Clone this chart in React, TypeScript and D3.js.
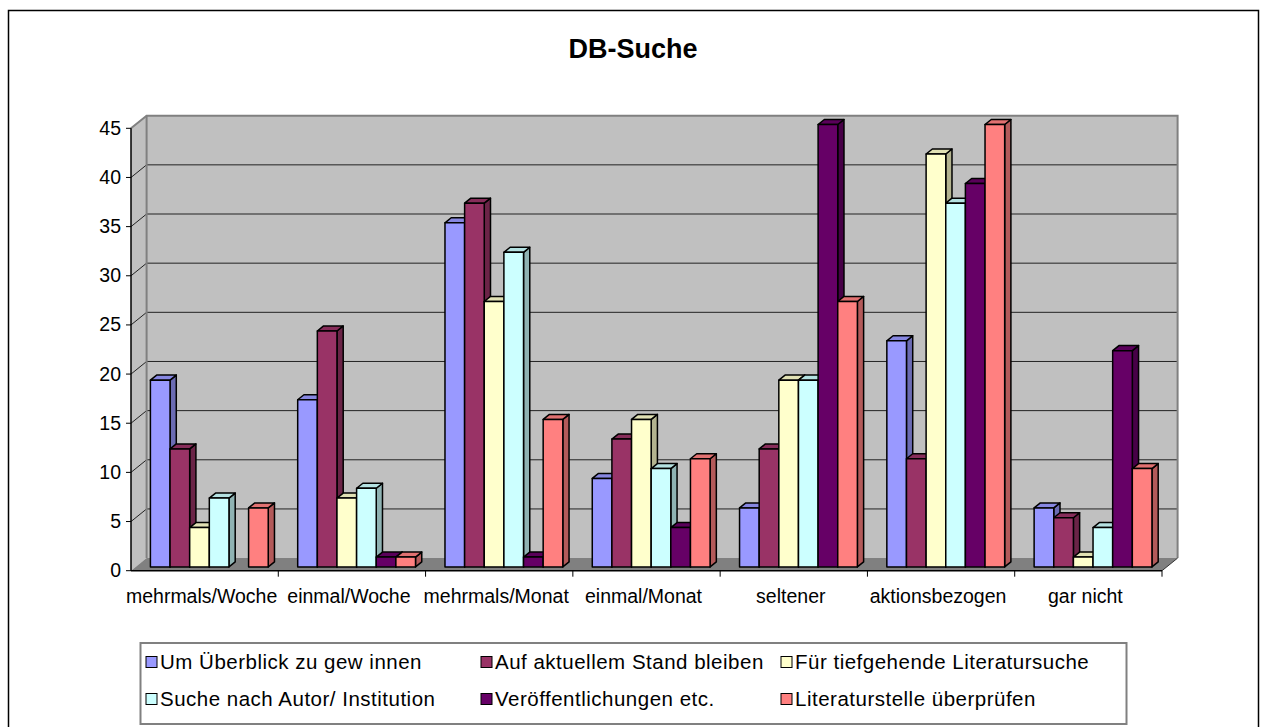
import * as d3 from "d3";

const categories = [
  "mehrmals/Woche",
  "einmal/Woche",
  "mehrmals/Monat",
  "einmal/Monat",
  "seltener",
  "aktionsbezogen",
  "gar nicht",
];

const seriesNames = [
  "Um Überblick zu gew innen",
  "Auf aktuellem Stand bleiben",
  "Für tiefgehende Literatursuche",
  "Suche nach Autor/ Institution",
  "Veröffentlichungen etc.",
  "Literaturstelle überprüfen",
];

const seriesColors = ["#9999FF", "#993366", "#FFFFCC", "#CCFFFF", "#660066", "#FF8080"];

const ueberblick = [19, 17, 35, 9, 6, 23, 6];
const aktuell = [12, 24, 37, 13, 12, 11, 5];
const tiefgehend = [4, 7, 27, 15, 19, 42, 1];
const autor = [7, 8, 32, 10, 19, 37, 4];
const veroeffentl = [0, 1, 1, 4, 45, 39, 22];
const literaturstelle = [6, 1, 15, 11, 27, 45, 10];

const yTicks = [0, 5, 10, 15, 20, 25, 30, 35, 40, 45];

const seriesValues = [ueberblick, aktuell, tiefgehend, autor, veroeffentl, literaturstelle];

const W = 1264;
const H = 727;
const x0 = 131;
const x1 = 1162;
const depth = { dx: 15.6, dy: -12.6 };
const barT0 = 0.3;
const barT1 = 0.7;
const font = "Arial, 'Liberation Sans', sans-serif";

export default function App() {
  const y = d3.scaleLinear().domain([0, 45]).range([570.7, 128.3]);
  const xCat = d3.scaleBand().domain(categories).range([x0, x1]).padding(0);
  const xSer = d3
    .scaleBand()
    .domain(seriesNames)
    .range([0, xCat.bandwidth()])
    .paddingInner(0)
    .paddingOuter(0.75);

  const y0 = y(0);
  const y45 = y(45);
  const bx = (t: number) => t * depth.dx;
  const by = (t: number) => t * depth.dy;

  // back wall, left wall, floor
  const backLeft = x0 + depth.dx;
  const backRight = x1 + depth.dx;
  const leftWall = `M${x0},${y0} L${x0},${y45} L${backLeft},${y45 + depth.dy} L${backLeft},${y0 + depth.dy} Z`;
  const floor = `M${x0},${y0} L${x1},${y0} L${backRight},${y0 + depth.dy} L${backLeft},${y0 + depth.dy} Z`;

  const bars: JSX.Element[] = [];
  categories.forEach((cat, ci) => {
    seriesNames.forEach((s, si) => {
      const v = seriesValues[si][ci];
      if (!v) return;
      const base = d3.color(seriesColors[si])!;
      const top = d3.rgb(base).darker(0.35).formatHex();
      const side = d3.rgb(base).darker(1).formatHex();
      const left = xCat(cat)! + xSer(s)! + bx(barT0);
      const right = left + xSer.bandwidth();
      const yb = y0 + by(barT0);
      const yt = y(v) + by(barT0);
      const ddx = bx(barT1 - barT0);
      const ddy = by(barT1 - barT0);
      bars.push(
        <g key={`${ci}-${si}`} stroke="#000" strokeWidth={1.5} strokeLinejoin="round">
          <path
            d={`M${right},${yt} L${right + ddx},${yt + ddy} L${right + ddx},${yb + ddy} L${right},${yb} Z`}
            fill={side}
          />
          <path
            d={`M${left},${yt} L${left + ddx},${yt + ddy} L${right + ddx},${yt + ddy} L${right},${yt} Z`}
            fill={top}
          />
          <rect x={left} y={yt} width={right - left} height={yb - yt} fill={seriesColors[si]} />
        </g>
      );
    });
  });

  const legendCols = [146, 481, 781];
  const legendRows = [669, 706];

  return (
    <svg
      width={W}
      height={H}
      style={{ position: "absolute", left: 0, top: 0, background: "#fff" }}
      fontFamily={font}
    >
      <rect x={8.5} y={10.5} width={1250} height={740} fill="#fff" stroke="#000" strokeWidth={1.5} />

      <text x={633} y={57.5} textAnchor="middle" fontSize={27} fontWeight={700} fill="#000">
        DB-Suche
      </text>

      {/* walls */}
      <rect x={backLeft} y={y45 + depth.dy} width={backRight - backLeft} height={y0 - y45} fill="#c0c0c0" />
      <path d={leftWall} fill="#c0c0c0" />
      <path d={floor} fill="#808080" />

      {/* gridlines */}
      {yTicks.slice(1, -1).map((t) => (
        <g key={t} stroke="#222" strokeWidth={1}>
          <line x1={backLeft} x2={backRight} y1={y(t) + depth.dy} y2={y(t) + depth.dy} />
          <line x1={x0} x2={backLeft} y1={y(t)} y2={y(t) + depth.dy} />
        </g>
      ))}

      {/* wall edges */}
      <path
        d={`M${x0},${y45} L${backLeft},${y45 + depth.dy} L${backRight},${y45 + depth.dy} L${backRight},${y0 + depth.dy}`}
        fill="none"
        stroke="#808080"
        strokeWidth={2}
      />
      <line x1={backLeft} x2={backLeft} y1={y45 + depth.dy} y2={y0 + depth.dy} stroke="#808080" strokeWidth={2} />
      <line x1={x1} y1={y0} x2={backRight} y2={y0 + depth.dy} stroke="#333" strokeWidth={1} />

      {bars}

      {/* y axis */}
      <line x1={x0} x2={x0} y1={y45} y2={y0} stroke="#000" strokeWidth={1.5} />
      {yTicks.map((t) => (
        <g key={t}>
          <line x1={x0 - 5} x2={x0} y1={y(t)} y2={y(t)} stroke="#000" strokeWidth={1} />
          <text x={121} y={y(t) + 6.5} textAnchor="end" fontSize={19.5} fill="#000">
            {t}
          </text>
        </g>
      ))}

      {/* x axis */}
      <line x1={x0} x2={x1} y1={y0} y2={y0} stroke="#000" strokeWidth={1.5} />
      {categories.map((c) => (
        <line
          key={c}
          x1={xCat(c)! + xCat.bandwidth()}
          x2={xCat(c)! + xCat.bandwidth()}
          y1={y0}
          y2={y0 + 6}
          stroke="#000"
          strokeWidth={1}
        />
      ))}
      {categories.map((c) => (
        <text
          key={c}
          x={xCat(c)! + xCat.bandwidth() / 2 - 3}
          y={603}
          textAnchor="middle"
          fontSize={19.5}
          fill="#000"
        >
          {c}
        </text>
      ))}

      {/* legend */}
      <rect x={140.5} y={643} width={986} height={81} fill="#fff" stroke="#808080" strokeWidth={2} />
      {seriesNames.map((s, i) => {
        const cx = legendCols[i % 3];
        const cy = legendRows[Math.floor(i / 3)];
        return (
          <g key={s}>
            <rect x={cx} y={cy - 12.5} width={11} height={11} fill={seriesColors[i]} stroke="#000" strokeWidth={1} />
            <text x={cx + 14} y={cy} fontSize={20.5} letterSpacing={0.5} fill="#000">
              {s}
            </text>
          </g>
        );
      })}
    </svg>
  );
}
